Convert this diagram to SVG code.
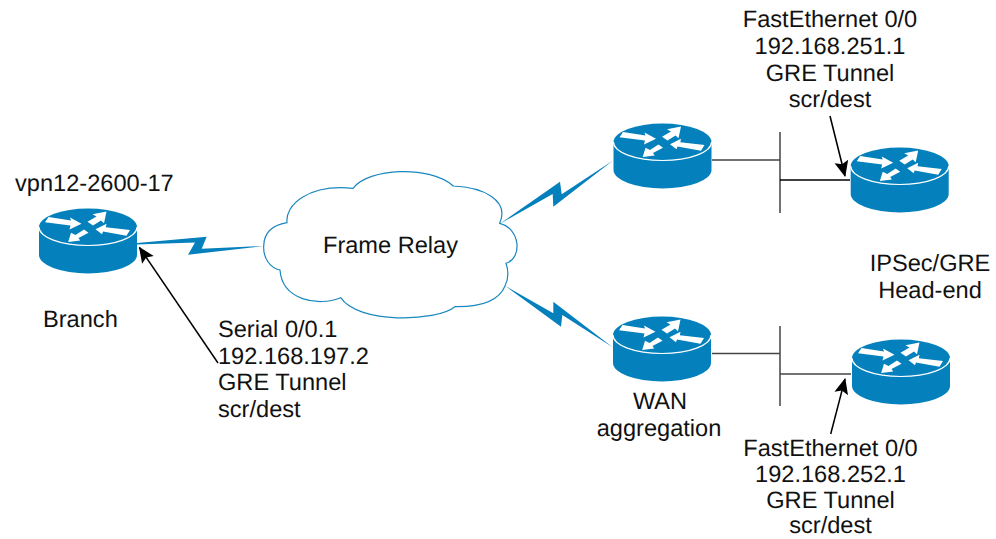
<svg xmlns="http://www.w3.org/2000/svg" xmlns:xlink="http://www.w3.org/1999/xlink" width="996" height="539" viewBox="0 0 996 539">
<style>
.t{font-family:"Liberation Sans",Arial,sans-serif;font-size:23.6px;fill:#111;text-rendering:geometricPrecision}
.m{text-anchor:middle}
.b{fill:#0481bd}
.l{stroke:#444;stroke-width:1.500;fill:none}
.k{stroke:#000;stroke-width:1.500;fill:none}
.w{fill:#fff}
</style>
<defs>
<marker id="ah" markerUnits="userSpaceOnUse" markerWidth="20" markerHeight="16" refX="15" refY="7" orient="auto"><path d="M0 0L16 7L0 14L3 7Z" fill="#000"/></marker>
<g id="router">
<path class="b" d="M-49 0A49 18.500 0 0 1 49 0V28A49 18.500 0 0 1 -49 28Z"/>
<path d="M-49 0A49 18.500 0 0 0 49 0" fill="none" stroke="#fff" stroke-width="1.200"/>
<path class="w" d="M-43-4.800L-39.500-10L-17-6.500L-18-9.500L-6.500-3.200L-18.500 2.500L-17.500-1.500Z"/>
<path class="w" d="M18.500-15.500L4.500-12.700L8.500-10.500L-0.500-5.300L5-1.500L13-6.500L16-3.800Z"/>
<path class="w" d="M7.500 2.300L18.500-3.200L17.800 0.300L42 3L38.500 8.800L15 4.500L14 7.300Z"/>
<path class="w" d="M-19.800 15L-17 5.800L-12.500 8L-4 2.500L0.500 5.700L-9.500 11L-7.800 13.500Z"/>
</g>
</defs>
<g id="connectors">
<path class="b" d="M137 243L206.700 236.700L201.700 248.700L264 246L188 254.700L195 242.500L137 244.500Z"/>
<path class="b" d="M499.500 224L560 181.700L561.700 194.300L613 160.500L553.300 206.700L552.700 194Z"/>
<path class="b" d="M505 285.700L561 326.700L562.300 315L612.700 347.300L553.300 301.700L553.300 313.300Z"/>
<path class="l" d="M712 160H780M780 132V213"/>
<path class="k" d="M780 180H850"/>
<path class="l" d="M712 353.500H780M780 326V406M780 374H851"/>
<path class="k" d="M218 363L139.500 247.500" marker-end="url(#ah)"/>
<path class="k" d="M830 116L845 176" marker-end="url(#ah)"/>
<path class="k" d="M830.700 434L845 379" marker-end="url(#ah)"/>
</g>
<g id="cloud">
<path d="M263.700 246C264 232 273 225 287 222.700C285 205 308 184 353 188.300C368 168 430 165 453.300 186C482 187 510 200 499.700 223.300C520 228 523 258 506 263.300C509 272 508 280 505 286C498 303 475 307 455 306.700C436 322 358 324 340.700 297.700C318 307 282 300 280 270C270 268 263 258 263.700 246Z" fill="#fff" stroke="#1a87bf" stroke-width="1.200"/>
</g>
<g id="n-branch"><use xlink:href="#router" href="#router" x="88" y="227"/></g>
<g id="n-top"><use xlink:href="#router" href="#router" x="662.500" y="142"/></g>
<g id="n-topright"><use xlink:href="#router" href="#router" x="899.700" y="166"/></g>
<g id="n-wan"><use xlink:href="#router" href="#router" x="662" y="335"/></g>
<g id="n-bottomright"><use xlink:href="#router" href="#router" x="901" y="358"/></g>
<g id="labels">
<text class="t" x="15" y="191">vpn12-2600-17</text>
<text class="t" x="43" y="327">Branch</text>
<text class="t m" x="390.500" y="253">Frame Relay</text>
<text class="t" x="218" y="337">Serial 0/0.1</text>
<text class="t" x="218" y="363.500">192.168.197.2</text>
<text class="t" x="218" y="390">GRE Tunnel</text>
<text class="t" x="218" y="416.500">scr/dest</text>
<text class="t m" x="830" y="27">FastEthernet 0/0</text>
<text class="t m" x="830" y="54">192.168.251.1</text>
<text class="t m" x="830" y="80.500">GRE Tunnel</text>
<text class="t m" x="830" y="107">scr/dest</text>
<text class="t m" x="930" y="271">IPSec/GRE</text>
<text class="t m" x="930" y="298">Head-end</text>
<text class="t m" x="660" y="409">WAN</text>
<text class="t m" x="659" y="436">aggregation</text>
<text class="t m" x="830.500" y="456">FastEthernet 0/0</text>
<text class="t m" x="830.500" y="482">192.168.252.1</text>
<text class="t m" x="830.500" y="508">GRE Tunnel</text>
<text class="t m" x="830.500" y="533">scr/dest</text>
</g>
</svg>
